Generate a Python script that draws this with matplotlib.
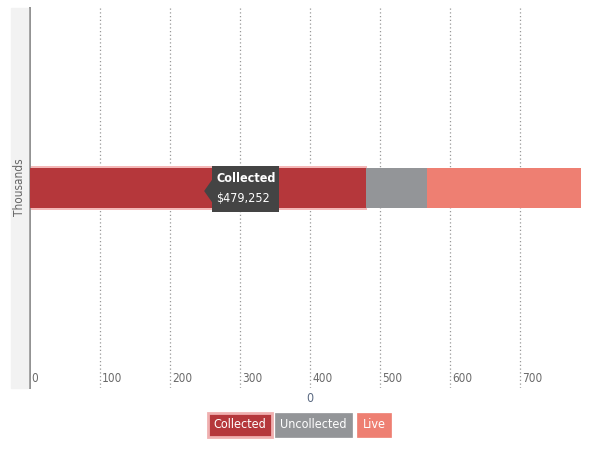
import matplotlib
matplotlib.use("Agg")
import matplotlib.pyplot as plt
from matplotlib.patches import Rectangle, Polygon
from matplotlib.transforms import blended_transform_factory

plt.rcParams['font.family'] = ['DejaVu Sans']
plt.rcParams['font.stretch'] = 'condensed'

# data (thousands)
series = ['Collected', 'Uncollected', 'Live']
values = [479.252, 88, 219]
colors = ['#b5373b', '#939598', '#ee7f72']
category = ['0']
xticks = [0, 100, 200, 300, 400, 500, 600, 700]
xmax = 800

fig = plt.figure(figsize=(6.13, 4.54), dpi=100)
ax = fig.add_axes([29.5 / 613, 1 - 388 / 454, (590.6 - 29.5) / 613, 380 / 454])

# stacked horizontal bar
left = 0
for name, v, c in zip(series, values, colors):
    if name == 'Collected':
        ax.barh(0, v + 2, left=left, height=0.44, color='#f4b8b8', zorder=2, linewidth=0)
    ax.barh(0, v, left=left, height=0.4, color=c, zorder=3, linewidth=0)
    left += v

ax.set_xlim(0, xmax)
ax.set_ylim(-2.005, 1.795)

# dotted gridlines + inner tick labels
trans = blended_transform_factory(ax.transData, ax.transAxes)
for t in xticks:
    if t > 0:
        ax.axvline(t, color='#999999', lw=0.9, ls=(0, (1, 2)), zorder=1)
    ax.text(t + 3, 0.008, str(t), transform=trans, ha='left', va='bottom',
            fontsize=8.5, color='#6a6a6a')

ax.set_xticks([])
ax.set_yticks([])
for s in ['top', 'right', 'bottom']:
    ax.spines[s].set_visible(False)
ax.spines['left'].set_color('#909090')
ax.spines['left'].set_linewidth(1.4)

# y-axis title strip
fig.patches.append(Rectangle((11 / 613, 1 - 388 / 454), 17 / 613, 380 / 454,
                             transform=fig.transFigure, color='#f2f2f2', zorder=0))
fig.text(19.5 / 613, 1 - 187 / 454, 'Thousands', rotation=90, ha='center', va='center',
         fontsize=8.5, color='#666666')

# x-axis title (category)
fig.text(310 / 613, 1 - 399 / 454, category[0], ha='center', va='center',
         fontsize=9, color='#5b6a82')

# tooltip
ax.add_patch(Rectangle((260, -0.245), 95.5, 0.46, color='#444444', zorder=5, lw=0))
ax.add_patch(Polygon([[249, -0.035], [261, 0.085], [261, -0.155]], closed=True,
                     color='#444444', zorder=5, lw=0))
ax.text(266, 0.085, 'Collected', ha='left', va='center', fontsize=9, color='white',
        fontweight='bold', zorder=7)
ax.text(266, -0.11, '$' + f'{values[0] * 1000:,.0f}', ha='left', va='center', fontsize=9,
        color='white', zorder=7)

# legend
leg_x = [239.5, 313.5, 374]
for name, c, x in zip(series, colors, leg_x):
    ec = '#f0b0b0' if name == 'Collected' else c
    fig.text(x / 613, 1 - 425 / 454, name, ha='center', va='center', fontsize=9,
             color='white',
             bbox=dict(boxstyle='square,pad=0.45', fc=c, ec=ec,
                       lw=2 if name == 'Collected' else 0.5))

fig.savefig('out.png', dpi=100)
